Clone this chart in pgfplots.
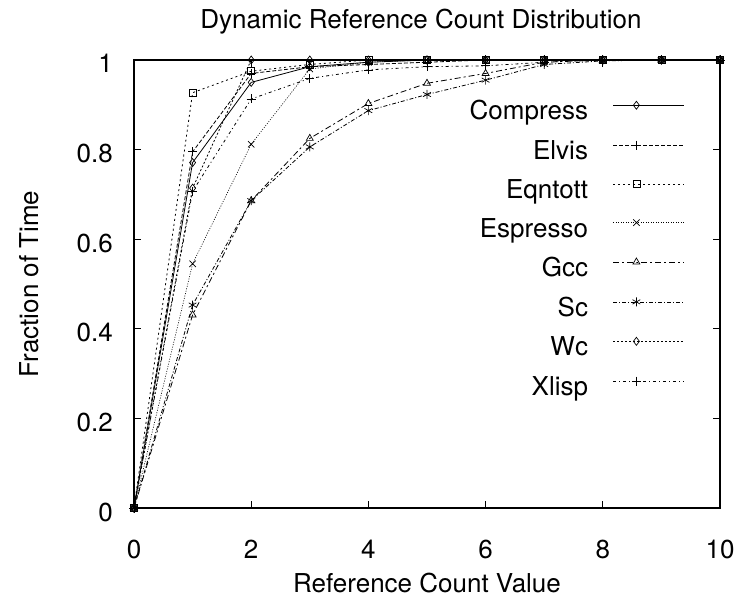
\documentclass[border=0pt]{standalone}
\usepackage{pgfplots}
\pgfplotsset{compat=1.18}
\usepackage{fontspec}
\setmainfont{TeX Gyre Heros}
\begin{document}
\begin{tikzpicture}
\path[use as bounding box] (-134pt,-92pt) rectangle (603pt,508pt);
\begin{axis}[
  at={(0pt,0pt)}, anchor=south west,
  width=586pt, height=448pt, scale only axis,
  xmin=0, xmax=10, ymin=0, ymax=1,
  xtick={0,2,4,6,8,10},
  ytick={0,0.2,0.4,0.6,0.8,1},
  yticklabels={0,0.2,0.4,0.6,0.8,1},
  xticklabels={0,2,4,6,8,10},
  font=\fontsize{26}{30}\selectfont,
  /pgf/number format/assume math mode=true,
  tick align=inside, major tick length=7pt,
  tick style={black, line width=0.8pt},
  axis line style={line width=1.2pt},
  xticklabel style={anchor=base, inner sep=0pt, yshift=-50pt},
  yticklabel style={anchor=base east, inner sep=0pt, xshift=-21pt, yshift=-13pt},
  title={Dynamic Reference Count Distribution},
  title style={at={(0.5,1)}, anchor=base, inner sep=0pt, yshift=25pt, xshift=-6pt},
  xlabel={Reference Count Value},
  ylabel={Fraction of Time},
  xlabel style={at={(axis description cs:0.5,-0.1875)}, anchor=base, inner sep=0pt},
  ylabel style={at={(axis description cs:-0.1638,0.5)}, anchor=base, inner sep=0pt, rotate=0},
  legend plot pos=right,
  legend cell align=right,
  legend style={draw=none, fill=none, at={(axis description cs:0.9454,0.9129)}, anchor=north east,
    row sep=14.9pt, column sep=25pt,
    nodes={inner sep=0pt, text height=17pt, text depth=6pt}},
  legend image code/.code={\draw[mark repeat=2, mark phase=2, yshift=9pt, #1] plot coordinates {(0pt,0pt) (23pt,0pt) (71pt,0pt)};},
  every axis plot/.append style={black, line width=0.8pt, mark options={solid, line width=0.7pt}},
]
\addplot[solid, mark=diamond, mark size=4pt] coordinates {(0,0)(1,0.771)(2,0.950)(3,0.985)(4,0.995)(5,1)(6,1)(7,1)(8,1)(9,1)(10,1)};
\addlegendentry{Compress}
\addplot[dash pattern=on 4pt off 2pt, mark=+, mark size=4.5pt] coordinates {(0,0)(1,0.795)(2,0.97)(3,0.985)(4,0.99)(5,0.995)(6,1)(7,1)(8,1)(9,1)(10,1)};
\addlegendentry{Elvis}
\addplot[dash pattern=on 2pt off 3pt, mark=square, mark size=3.5pt] coordinates {(0,0)(1,0.927)(2,0.975)(3,0.99)(4,1)(5,1)(6,1)(7,1)(8,1)(9,1)(10,1)};
\addlegendentry{Eqntott}
\addplot[dash pattern=on 1pt off 1.5pt, line width=0.6pt, mark=x, mark size=4.5pt] coordinates {(0,0)(1,0.545)(2,0.812)(3,0.98)(4,0.995)(5,1)(6,1)(7,1)(8,1)(9,1)(10,1)};
\addlegendentry{Espresso}
\addplot[dash pattern=on 6pt off 3pt on 2pt off 3pt, mark=triangle, mark size=4pt] coordinates {(0,0)(1,0.431)(2,0.686)(3,0.825)(4,0.903)(5,0.948)(6,0.97)(7,0.995)(8,1)(9,1)(10,1)};
\addlegendentry{Gcc}
\addplot[dash pattern=on 4pt off 2pt on 1pt off 2pt, mark=asterisk, mark size=4.5pt] coordinates {(0,0)(1,0.453)(2,0.686)(3,0.806)(4,0.887)(5,0.923)(6,0.955)(7,0.99)(8,0.998)(9,1)(10,1)};
\addlegendentry{Sc}
\addplot[dash pattern=on 2pt off 2pt, mark=diamond, mark size=4pt] coordinates {(0,0)(1,0.714)(2,1)(3,1)(4,1)(5,1)(6,1)(7,1)(8,1)(9,1)(10,1)};
\addlegendentry{Wc}
\addplot[dash pattern=on 3pt off 3pt on 1pt off 3pt, mark=+, mark size=4.5pt] coordinates {(0,0)(1,0.707)(2,0.913)(3,0.959)(4,0.978)(5,0.985)(6,0.987)(7,0.995)(8,1)(9,1)(10,1)};
\addlegendentry{Xlisp}
\end{axis}
\end{tikzpicture}
\end{document}
